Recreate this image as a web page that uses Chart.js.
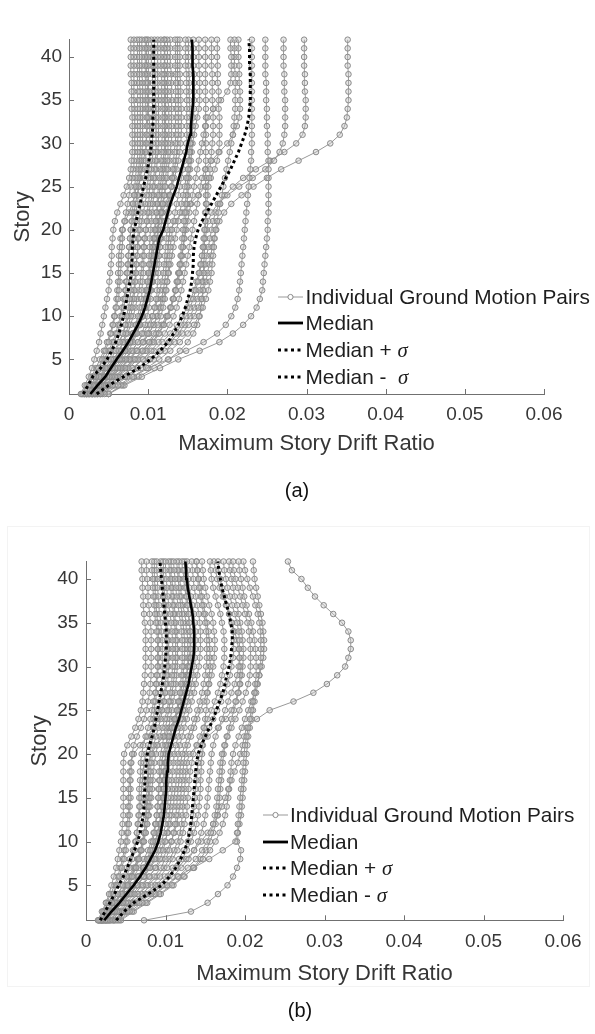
<!DOCTYPE html>
<html><head><meta charset="utf-8">
<script src="https://cdn.jsdelivr.net/npm/chart.js@4.4.1/dist/chart.umd.min.js"></script>
<style>
html,body{margin:0;padding:0;background:#fff;width:595px;height:1034px;overflow:hidden;font-family:'Liberation Sans',Arial,sans-serif;}
canvas{position:absolute;left:0;}
#chartA{top:0;}
#chartB{top:520px;}
.frame{position:absolute;left:7px;top:526px;width:583px;height:461px;border:1px solid #f3f3f3;box-sizing:border-box;}
.lg{position:absolute;left:0;top:0;width:595px;height:1034px;pointer-events:none;}
.row{position:absolute;height:26px;line-height:26px;white-space:nowrap;color:#1e1e1e;font-size:20.8px;}
.row svg{position:absolute;top:0;}
.sig{font-style:italic;font-family:'Liberation Serif','DejaVu Serif',serif;}
.cap{position:absolute;width:80px;height:24px;line-height:24px;text-align:center;font-size:20px;color:#111;}
</style>
</head>
<body>
<div class="frame"></div>
<canvas id="chartA" width="595" height="460"></canvas>
<canvas id="chartB" width="595" height="470"></canvas>
<div class="lg" id="legendA"></div>
<div class="lg" id="legendB"></div>
<div class="cap" style="left:257px;top:478px;">(a)</div>
<div class="cap" style="left:260px;top:998px;">(b)</div>
<script>
// ---------- DATA ----------
const stories = [1,2,3,4,5,6,7,8,9,10,11,12,13,14,15,16,17,18,19,20,21,22,23,24,25,26,27,28,29,30,31,32,33,34,35,36,37,38,39,40,41,42];
const xTickValues = [0,0.01,0.02,0.03,0.04,0.05,0.06];
const xTickLabels = ['0','0.01','0.02','0.03','0.04','0.05','0.06'];
const yTickValues = [5,10,15,20,25,30,35,40];
const legendLabelsA = ['Individual Ground Motion Pairs','Median','Median + σ','Median -  σ'];
const legendLabelsB = ['Individual Ground Motion Pairs','Median','Median + σ','Median - σ'];

// (a) individual ground motion pairs: max story drift ratio at stories 1..42
const pairsA = [
[.0015,.0020,.0025,.0029,.0032,.0035,.0038,.0040,.0042,.0044,.0046,.0048,.0050,.0051,.0052,.0053,.0054,.0054,.0055,.0056,.0058,.0061,.0065,.0069,.0073,.0076,.0078,.0079,.0080,.0080,.0080,.0080,.0080,.0079,.0079,.0079,.0079,.0078,.0078,.0078,.0078,.0078],
[.0018,.0025,.0031,.0037,.0042,.0046,.0050,.0053,.0056,.0058,.0060,.0062,.0063,.0064,.0065,.0066,.0066,.0067,.0067,.0068,.0070,.0072,.0074,.0076,.0078,.0080,.0081,.0082,.0083,.0083,.0083,.0083,.0083,.0083,.0082,.0082,.0082,.0082,.0082,.0082,.0082,.0082],
[.0020,.0027,.0034,.0041,.0047,.0052,.0057,.0061,.0064,.0067,.0069,.0071,.0072,.0073,.0074,.0075,.0075,.0076,.0077,.0078,.0079,.0080,.0081,.0082,.0083,.0084,.0085,.0086,.0087,.0087,.0087,.0087,.0087,.0087,.0087,.0087,.0086,.0086,.0086,.0086,.0086,.0086],
[.0016,.0022,.0028,.0034,.0039,.0044,.0048,.0052,.0055,.0057,.0059,.0060,.0061,.0062,.0062,.0063,.0063,.0064,.0065,.0067,.0071,.0076,.0080,.0083,.0085,.0087,.0088,.0089,.0090,.0090,.0090,.0090,.0090,.0090,.0090,.0090,.0089,.0089,.0089,.0089,.0089,.0089],
[.0022,.0030,.0038,.0046,.0053,.0059,.0064,.0068,.0071,.0073,.0075,.0077,.0078,.0079,.0080,.0080,.0081,.0081,.0082,.0083,.0084,.0085,.0086,.0087,.0088,.0089,.0090,.0091,.0092,.0093,.0093,.0093,.0093,.0093,.0093,.0093,.0093,.0092,.0092,.0092,.0092,.0092],
[.0024,.0032,.0040,.0049,.0057,.0063,.0068,.0072,.0075,.0078,.0080,.0082,.0083,.0084,.0085,.0085,.0086,.0086,.0087,.0088,.0089,.0090,.0091,.0093,.0094,.0095,.0096,.0097,.0097,.0098,.0098,.0098,.0098,.0097,.0097,.0097,.0097,.0096,.0096,.0096,.0096,.0096],
[.0020,.0027,.0035,.0043,.0050,.0057,.0063,.0068,.0072,.0075,.0078,.0080,.0082,.0083,.0084,.0085,.0086,.0087,.0088,.0090,.0092,.0094,.0096,.0098,.0099,.0100,.0101,.0102,.0102,.0102,.0102,.0102,.0101,.0101,.0101,.0101,.0100,.0100,.0100,.0100,.0100,.0100],
[.0026,.0035,.0045,.0055,.0064,.0071,.0077,.0081,.0084,.0087,.0089,.0091,.0092,.0093,.0094,.0094,.0095,.0095,.0096,.0097,.0098,.0099,.0100,.0101,.0102,.0103,.0104,.0105,.0106,.0106,.0106,.0106,.0106,.0106,.0105,.0105,.0105,.0105,.0104,.0104,.0104,.0104],
[.0022,.0030,.0039,.0048,.0056,.0063,.0069,.0074,.0078,.0081,.0084,.0086,.0088,.0090,.0091,.0092,.0093,.0094,.0095,.0097,.0099,.0101,.0103,.0105,.0106,.0107,.0108,.0109,.0110,.0110,.0110,.0110,.0110,.0110,.0109,.0109,.0109,.0109,.0108,.0108,.0108,.0108],
[.0028,.0038,.0048,.0058,.0067,.0075,.0081,.0086,.0090,.0093,.0095,.0097,.0098,.0099,.0100,.0101,.0101,.0102,.0102,.0103,.0104,.0105,.0106,.0107,.0108,.0109,.0110,.0111,.0112,.0113,.0113,.0113,.0113,.0113,.0113,.0113,.0112,.0112,.0112,.0112,.0112,.0112],
[.0024,.0033,.0043,.0053,.0062,.0070,.0077,.0083,.0088,.0092,.0095,.0098,.0100,.0102,.0103,.0104,.0105,.0106,.0107,.0108,.0109,.0110,.0111,.0112,.0113,.0114,.0115,.0116,.0117,.0117,.0118,.0118,.0118,.0118,.0117,.0117,.0117,.0117,.0116,.0116,.0116,.0116],
[.0030,.0040,.0051,.0062,.0072,.0080,.0087,.0092,.0096,.0099,.0101,.0103,.0104,.0105,.0106,.0106,.0107,.0107,.0108,.0109,.0110,.0111,.0112,.0114,.0115,.0117,.0118,.0119,.0120,.0121,.0121,.0121,.0121,.0121,.0121,.0121,.0120,.0120,.0120,.0120,.0120,.0120],
[.0026,.0035,.0045,.0055,.0064,.0072,.0079,.0085,.0090,.0094,.0097,.0100,.0102,.0104,.0106,.0108,.0109,.0110,.0111,.0112,.0114,.0116,.0118,.0120,.0121,.0122,.0123,.0124,.0125,.0125,.0126,.0126,.0126,.0126,.0125,.0125,.0125,.0125,.0124,.0124,.0124,.0124],
[.0032,.0043,.0054,.0066,.0077,.0086,.0093,.0099,.0103,.0106,.0108,.0110,.0111,.0112,.0113,.0114,.0114,.0115,.0115,.0116,.0117,.0118,.0119,.0121,.0122,.0124,.0125,.0127,.0128,.0129,.0130,.0130,.0130,.0130,.0130,.0129,.0129,.0129,.0128,.0128,.0128,.0128],
[.0028,.0038,.0049,.0060,.0070,.0079,.0087,.0094,.0100,.0105,.0109,.0112,.0115,.0117,.0119,.0120,.0121,.0122,.0123,.0124,.0125,.0126,.0127,.0128,.0129,.0130,.0131,.0132,.0133,.0134,.0135,.0135,.0135,.0135,.0135,.0135,.0135,.0134,.0134,.0134,.0134,.0134],
[.0022,.0031,.0040,.0050,.0059,.0067,.0074,.0080,.0085,.0089,.0092,.0095,.0097,.0099,.0101,.0102,.0104,.0105,.0107,.0110,.0114,.0118,.0122,.0126,.0130,.0133,.0136,.0138,.0140,.0141,.0142,.0142,.0142,.0142,.0141,.0141,.0141,.0140,.0140,.0140,.0140,.0140],
[.0034,.0046,.0058,.0071,.0083,.0093,.0101,.0107,.0112,.0116,.0119,.0121,.0123,.0124,.0125,.0126,.0127,.0128,.0129,.0130,.0132,.0134,.0136,.0138,.0140,.0142,.0144,.0146,.0147,.0148,.0149,.0149,.0149,.0149,.0149,.0148,.0148,.0148,.0147,.0147,.0147,.0147],
[.0030,.0041,.0052,.0064,.0075,.0085,.0094,.0101,.0107,.0112,.0116,.0119,.0122,.0124,.0126,.0128,.0130,.0132,.0134,.0136,.0138,.0140,.0142,.0144,.0146,.0148,.0150,.0151,.0152,.0153,.0153,.0153,.0153,.0153,.0152,.0152,.0152,.0152,.0151,.0151,.0151,.0151],
[.0036,.0049,.0062,.0075,.0087,.0098,.0107,.0114,.0120,.0125,.0129,.0132,.0135,.0137,.0139,.0140,.0141,.0142,.0143,.0144,.0145,.0146,.0147,.0148,.0149,.0150,.0151,.0152,.0153,.0154,.0155,.0156,.0157,.0158,.0158,.0158,.0158,.0158,.0157,.0157,.0157,.0157],
[.0032,.0044,.0057,.0070,.0082,.0093,.0102,.0110,.0117,.0123,.0128,.0132,.0135,.0138,.0140,.0142,.0143,.0144,.0145,.0146,.0147,.0148,.0149,.0150,.0151,.0152,.0153,.0154,.0155,.0156,.0158,.0160,.0162,.0164,.0165,.0165,.0165,.0165,.0164,.0164,.0164,.0164],
[.0040,.0055,.0071,.0087,.0102,.0115,.0126,.0135,.0142,.0148,.0153,.0157,.0160,.0163,.0165,.0167,.0168,.0169,.0170,.0171,.0172,.0173,.0174,.0175,.0176,.0177,.0178,.0179,.0180,.0181,.0182,.0182,.0182,.0182,.0181,.0181,.0181,.0181,.0180,.0180,.0180,.0180],
[.0030,.0041,.0053,.0065,.0076,.0086,.0094,.0101,.0107,.0111,.0114,.0117,.0119,.0121,.0122,.0123,.0124,.0125,.0126,.0128,.0134,.0143,.0153,.0163,.0172,.0179,.0184,.0187,.0189,.0190,.0190,.0190,.0190,.0189,.0189,.0189,.0188,.0188,.0188,.0187,.0187,.0187],
[.0034,.0047,.0060,.0073,.0085,.0096,.0105,.0113,.0119,.0124,.0128,.0131,.0134,.0136,.0138,.0140,.0142,.0144,.0146,.0148,.0150,.0152,.0154,.0156,.0158,.0160,.0162,.0164,.0166,.0168,.0170,.0172,.0175,.0182,.0192,.0200,.0204,.0205,.0205,.0205,.0204,.0204],
[.0045,.0062,.0080,.0098,.0114,.0128,.0140,.0150,.0158,.0164,.0169,.0173,.0176,.0178,.0180,.0181,.0182,.0183,.0184,.0185,.0187,.0189,.0191,.0193,.0195,.0197,.0199,.0201,.0203,.0205,.0207,.0208,.0209,.0210,.0210,.0210,.0210,.0210,.0209,.0209,.0209,.0209],
[.0038,.0052,.0066,.0080,.0093,.0104,.0113,.0121,.0127,.0132,.0136,.0139,.0142,.0144,.0146,.0148,.0150,.0152,.0154,.0156,.0158,.0160,.0162,.0164,.0166,.0168,.0172,.0180,.0190,.0200,.0207,.0212,.0215,.0216,.0216,.0216,.0215,.0215,.0215,.0214,.0214,.0214],
[.0050,.0066,.0082,.0100,.0125,.0148,.0170,.0187,.0198,.0205,.0210,.0213,.0215,.0216,.0217,.0218,.0219,.0220,.0221,.0222,.0223,.0224,.0225,.0226,.0227,.0228,.0229,.0230,.0230,.0231,.0231,.0231,.0231,.0231,.0231,.0231,.0231,.0231,.0231,.0231,.0231,.0231],
[.0050,.0070,.0092,.0115,.0138,.0165,.0190,.0207,.0220,.0230,.0237,.0241,.0244,.0245,.0246,.0247,.0248,.0249,.0250,.0251,.0251,.0252,.0252,.0252,.0252,.0252,.0252,.0252,.0251,.0251,.0251,.0250,.0250,.0250,.0249,.0249,.0249,.0248,.0248,.0248,.0248,.0248],
[.0036,.0050,.0065,.0080,.0094,.0107,.0118,.0128,.0136,.0143,.0149,.0154,.0158,.0161,.0164,.0166,.0168,.0170,.0172,.0174,.0176,.0180,.0188,.0200,.0215,.0232,.0248,.0259,.0266,.0270,.0272,.0273,.0273,.0273,.0273,.0272,.0272,.0272,.0271,.0271,.0271,.0271],
[.0040,.0055,.0071,.0087,.0102,.0116,.0128,.0138,.0146,.0153,.0158,.0162,.0165,.0168,.0170,.0172,.0174,.0176,.0178,.0180,.0182,.0185,.0190,.0197,.0207,.0220,.0236,.0254,.0272,.0287,.0295,.0298,.0299,.0299,.0299,.0298,.0298,.0298,.0297,.0297,.0297,.0297],
[.0042,.0058,.0074,.0091,.0107,.0121,.0133,.0143,.0151,.0158,.0163,.0167,.0170,.0173,.0175,.0177,.0179,.0181,.0183,.0186,.0190,.0196,.0205,.0218,.0233,.0250,.0268,.0290,.0312,.0330,.0342,.0348,.0351,.0352,.0353,.0353,.0353,.0353,.0352,.0352,.0352,.0352],
[.0050,.0068,.0088,.0108,.0126,.0140,.0150,.0157,.0162,.0165,.0167,.0168,.0169,.0170,.0170,.0170,.0171,.0171,.0171,.0172,.0172,.0172,.0173,.0173,.0173,.0173,.0173,.0173,.0173,.0173,.0173,.0173,.0173,.0173,.0173,.0172,.0172,.0172,.0172,.0172,.0172,.0172],
[.0020,.0028,.0037,.0047,.0057,.0066,.0074,.0081,.0087,.0092,.0096,.0100,.0103,.0106,.0109,.0111,.0113,.0115,.0117,.0119,.0121,.0123,.0125,.0127,.0129,.0131,.0133,.0135,.0136,.0137,.0138,.0138,.0138,.0138,.0138,.0138,.0137,.0137,.0137,.0137,.0137,.0137],
[.0017,.0023,.0030,.0037,.0044,.0050,.0055,.0059,.0062,.0065,.0067,.0069,.0071,.0072,.0073,.0074,.0075,.0076,.0077,.0078,.0080,.0082,.0084,.0086,.0088,.0090,.0092,.0094,.0096,.0097,.0098,.0099,.0099,.0099,.0099,.0099,.0099,.0098,.0098,.0098,.0098,.0098],
[.0025,.0034,.0044,.0054,.0063,.0071,.0078,.0084,.0089,.0093,.0096,.0099,.0101,.0103,.0105,.0107,.0109,.0111,.0112,.0113,.0114,.0115,.0116,.0117,.0118,.0119,.0120,.0121,.0122,.0122,.0122,.0122,.0122,.0122,.0122,.0122,.0121,.0121,.0121,.0121,.0121,.0121]
];
const medianA = [.0027,.0036,.0046,.0053,.0060,.0068,.0075,.0081,.0087,.0092,.0096,.0099,.0102,.0104,.0106,.0108,.0110,.0112,.0114,.0119,.0122,.0125,.0128,.0132,.0136,.0139,.0142,.0145,.0148,.0150,.0153,.0154,.0155,.0156,.0157,.0157,.0157,.0157,.0156,.0156,.0156,.0155];
const medianPlusA = [.0035,.0050,.0069,.0088,.0103,.0115,.0125,.0132,.0138,.0143,.0147,.0150,.0153,.0155,.0156,.0157,.0157,.0158,.0160,.0163,.0168,.0174,.0180,.0186,.0192,.0198,.0204,.0209,.0214,.0218,.0222,.0225,.0227,.0228,.0229,.0229,.0229,.0229,.0228,.0228,.0228,.0227];
const medianMinusA = [.0018,.0024,.0030,.0040,.0048,.0054,.0059,.0063,.0066,.0069,.0071,.0073,.0075,.0077,.0079,.0079,.0080,.0080,.0081,.0082,.0085,.0087,.0090,.0092,.0094,.0097,.0099,.0101,.0103,.0104,.0105,.0106,.0106,.0107,.0107,.0107,.0107,.0107,.0107,.0107,.0107,.0107];

// (b) individual ground motion pairs
const pairsB = [
[.0015,.0020,.0025,.0029,.0032,.0035,.0038,.0040,.0042,.0044,.0045,.0046,.0047,.0047,.0047,.0047,.0047,.0047,.0047,.0048,.0052,.0057,.0062,.0066,.0069,.0071,.0072,.0073,.0074,.0075,.0075,.0075,.0075,.0075,.0074,.0073,.0072,.0072,.0071,.0071,.0070,.0070],
[.0017,.0023,.0029,.0034,.0038,.0042,.0045,.0048,.0050,.0052,.0053,.0054,.0055,.0055,.0056,.0056,.0056,.0057,.0057,.0058,.0060,.0064,.0069,.0073,.0076,.0078,.0080,.0081,.0082,.0082,.0082,.0082,.0082,.0082,.0081,.0080,.0079,.0078,.0078,.0077,.0076,.0076],
[.0019,.0026,.0033,.0040,.0046,.0051,.0055,.0058,.0061,.0063,.0064,.0065,.0066,.0067,.0067,.0067,.0068,.0068,.0069,.0070,.0072,.0075,.0078,.0081,.0083,.0085,.0087,.0088,.0089,.0090,.0090,.0090,.0090,.0089,.0088,.0087,.0086,.0085,.0084,.0084,.0083,.0083],
[.0016,.0022,.0028,.0034,.0040,.0046,.0051,.0055,.0059,.0062,.0064,.0066,.0067,.0068,.0069,.0070,.0071,.0072,.0073,.0075,.0078,.0082,.0086,.0089,.0091,.0093,.0094,.0095,.0096,.0096,.0096,.0096,.0096,.0095,.0094,.0093,.0092,.0091,.0090,.0090,.0089,.0089],
[.0021,.0029,.0037,.0045,.0052,.0058,.0063,.0067,.0070,.0073,.0075,.0077,.0078,.0079,.0080,.0080,.0081,.0081,.0082,.0083,.0085,.0088,.0091,.0094,.0096,.0098,.0099,.0100,.0101,.0102,.0102,.0102,.0102,.0101,.0100,.0099,.0098,.0097,.0096,.0095,.0094,.0094],
[.0018,.0025,.0032,.0040,.0047,.0054,.0060,.0065,.0069,.0072,.0075,.0077,.0079,.0081,.0082,.0083,.0084,.0085,.0086,.0088,.0090,.0093,.0096,.0099,.0102,.0104,.0106,.0107,.0108,.0109,.0109,.0109,.0109,.0108,.0107,.0106,.0104,.0103,.0102,.0101,.0100,.0100],
[.0024,.0033,.0042,.0051,.0059,.0066,.0072,.0077,.0081,.0084,.0086,.0088,.0089,.0090,.0091,.0091,.0092,.0092,.0093,.0094,.0096,.0098,.0100,.0102,.0104,.0106,.0108,.0110,.0111,.0112,.0113,.0113,.0113,.0112,.0111,.0110,.0109,.0108,.0107,.0106,.0105,.0104],
[.0020,.0028,.0036,.0045,.0053,.0060,.0067,.0073,.0078,.0082,.0085,.0087,.0089,.0090,.0091,.0092,.0093,.0094,.0095,.0097,.0100,.0104,.0108,.0111,.0114,.0116,.0118,.0119,.0120,.0121,.0121,.0121,.0121,.0120,.0119,.0117,.0116,.0114,.0113,.0112,.0111,.0110],
[.0026,.0036,.0046,.0056,.0065,.0073,.0080,.0086,.0091,.0095,.0098,.0100,.0101,.0102,.0103,.0103,.0104,.0104,.0105,.0106,.0107,.0109,.0111,.0113,.0115,.0117,.0119,.0121,.0122,.0123,.0124,.0124,.0124,.0123,.0122,.0121,.0119,.0118,.0117,.0116,.0115,.0114],
[.0022,.0031,.0040,.0049,.0058,.0066,.0073,.0079,.0084,.0088,.0091,.0093,.0095,.0096,.0097,.0098,.0099,.0100,.0101,.0103,.0107,.0111,.0115,.0119,.0122,.0125,.0127,.0129,.0130,.0131,.0132,.0132,.0132,.0131,.0130,.0129,.0127,.0126,.0124,.0123,.0122,.0121],
[.0028,.0039,.0050,.0061,.0071,.0080,.0087,.0093,.0097,.0100,.0102,.0104,.0105,.0106,.0107,.0108,.0108,.0109,.0110,.0111,.0113,.0116,.0119,.0122,.0125,.0128,.0131,.0133,.0135,.0136,.0137,.0138,.0138,.0138,.0137,.0136,.0134,.0132,.0130,.0129,.0128,.0127],
[.0024,.0034,.0044,.0054,.0064,.0073,.0081,.0088,.0094,.0099,.0103,.0106,.0108,.0110,.0111,.0112,.0113,.0114,.0115,.0116,.0118,.0121,.0124,.0127,.0130,.0133,.0136,.0138,.0140,.0142,.0143,.0144,.0144,.0144,.0143,.0142,.0140,.0138,.0136,.0135,.0134,.0133],
[.0030,.0041,.0053,.0065,.0076,.0086,.0094,.0100,.0105,.0108,.0110,.0112,.0113,.0114,.0115,.0116,.0117,.0118,.0119,.0121,.0124,.0128,.0132,.0136,.0140,.0143,.0146,.0148,.0150,.0151,.0152,.0152,.0152,.0151,.0150,.0148,.0146,.0144,.0142,.0141,.0140,.0139],
[.0026,.0036,.0047,.0058,.0069,.0079,.0088,.0096,.0102,.0107,.0111,.0114,.0116,.0118,.0119,.0120,.0121,.0122,.0123,.0125,.0128,.0132,.0136,.0140,.0144,.0148,.0152,.0155,.0158,.0160,.0161,.0162,.0162,.0161,.0160,.0158,.0155,.0152,.0150,.0148,.0147,.0146],
[.0032,.0044,.0057,.0070,.0082,.0093,.0102,.0109,.0115,.0119,.0122,.0124,.0126,.0127,.0128,.0129,.0130,.0131,.0133,.0135,.0139,.0143,.0148,.0153,.0158,.0162,.0166,.0169,.0171,.0173,.0174,.0174,.0174,.0173,.0171,.0169,.0166,.0163,.0160,.0158,.0157,.0156],
[.0034,.0047,.0060,.0074,.0087,.0099,.0109,.0117,.0123,.0128,.0131,.0133,.0135,.0136,.0137,.0138,.0139,.0140,.0141,.0143,.0146,.0150,.0155,.0160,.0165,.0170,.0174,.0178,.0181,.0183,.0185,.0186,.0186,.0185,.0183,.0180,.0177,.0174,.0171,.0169,.0167,.0166],
[.0038,.0052,.0067,.0082,.0096,.0109,.0120,.0129,.0136,.0141,.0145,.0148,.0150,.0152,.0153,.0154,.0155,.0156,.0157,.0158,.0160,.0163,.0167,.0171,.0175,.0179,.0183,.0187,.0190,.0192,.0193,.0193,.0193,.0192,.0190,.0187,.0184,.0181,.0178,.0176,.0174,.0173],
[.0040,.0055,.0071,.0087,.0102,.0116,.0128,.0138,.0146,.0152,.0157,.0160,.0162,.0164,.0165,.0166,.0167,.0168,.0169,.0171,.0174,.0178,.0183,.0188,.0193,.0197,.0201,.0204,.0206,.0207,.0207,.0207,.0206,.0205,.0203,.0200,.0197,.0194,.0191,.0188,.0186,.0185],
[.0028,.0042,.0058,.0085,.0100,.0115,.0135,.0155,.0172,.0188,.0190,.0191,.0192,.0193,.0194,.0195,.0196,.0197,.0198,.0199,.0200,.0202,.0204,.0206,.0208,.0210,.0212,.0213,.0214,.0214,.0214,.0213,.0212,.0210,.0208,.0205,.0202,.0199,.0197,.0195,.0193,.0192],
[.0073,.0132,.0153,.0166,.0178,.0185,.0190,.0194,.0195,.0190,.0191,.0193,.0195,.0196,.0197,.0198,.0199,.0200,.0201,.0202,.0203,.0204,.0206,.0208,.0210,.0212,.0214,.0216,.0218,.0219,.0220,.0220,.0220,.0219,.0218,.0216,.0213,.0210,.0206,.0203,.0200,.0198],
[.0035,.0048,.0062,.0076,.0090,.0103,.0115,.0126,.0136,.0145,.0153,.0160,.0166,.0171,.0175,.0179,.0183,.0187,.0191,.0194,.0197,.0199,.0202,.0215,.0231,.0261,.0286,.0303,.0316,.0326,.0330,.0333,.0333,.0330,.0322,.0311,.0299,.0288,.0279,.0271,.0259,.0254],
[.0042,.0058,.0075,.0092,.0108,.0123,.0136,.0147,.0156,.0163,.0168,.0172,.0175,.0177,.0179,.0180,.0181,.0182,.0183,.0185,.0188,.0192,.0196,.0200,.0204,.0208,.0212,.0215,.0218,.0221,.0223,.0224,.0224,.0223,.0222,.0220,.0218,.0216,.0214,.0212,.0211,.0210],
[.0016,.0021,.0026,.0031,.0036,.0040,.0043,.0046,.0048,.0050,.0051,.0052,.0053,.0053,.0054,.0054,.0055,.0055,.0056,.0060,.0068,.0077,.0085,.0091,.0095,.0098,.0100,.0102,.0103,.0104,.0104,.0104,.0104,.0103,.0102,.0101,.0100,.0099,.0098,.0098,.0097,.0097],
[.0020,.0028,.0036,.0044,.0051,.0057,.0062,.0066,.0069,.0071,.0073,.0074,.0075,.0076,.0076,.0077,.0077,.0078,.0079,.0082,.0089,.0097,.0105,.0112,.0117,.0121,.0124,.0126,.0127,.0128,.0128,.0128,.0128,.0127,.0126,.0124,.0122,.0120,.0119,.0118,.0117,.0117],
[.0036,.0050,.0064,.0078,.0091,.0103,.0113,.0121,.0127,.0132,.0136,.0139,.0141,.0142,.0143,.0144,.0144,.0145,.0145,.0146,.0147,.0148,.0149,.0150,.0151,.0152,.0153,.0154,.0155,.0156,.0156,.0156,.0155,.0154,.0152,.0150,.0148,.0146,.0144,.0142,.0140,.0139],
[.0022,.0030,.0039,.0048,.0057,.0065,.0072,.0078,.0083,.0087,.0090,.0092,.0094,.0095,.0096,.0097,.0098,.0099,.0100,.0101,.0103,.0106,.0109,.0112,.0115,.0118,.0121,.0124,.0126,.0128,.0130,.0131,.0131,.0131,.0130,.0129,.0128,.0127,.0126,.0125,.0124,.0124],
[.0019,.0027,.0035,.0043,.0050,.0056,.0061,.0065,.0068,.0071,.0073,.0075,.0076,.0077,.0078,.0078,.0079,.0079,.0080,.0081,.0082,.0083,.0084,.0085,.0086,.0087,.0088,.0089,.0090,.0091,.0091,.0091,.0091,.0091,.0090,.0089,.0088,.0087,.0087,.0086,.0086,.0086],
[.0025,.0035,.0045,.0055,.0064,.0072,.0078,.0083,.0087,.0090,.0092,.0094,.0095,.0096,.0097,.0097,.0098,.0098,.0099,.0100,.0101,.0102,.0104,.0106,.0108,.0110,.0112,.0113,.0114,.0115,.0115,.0115,.0115,.0114,.0113,.0112,.0111,.0110,.0109,.0108,.0107,.0107],
[.0030,.0042,.0054,.0066,.0078,.0089,.0098,.0105,.0111,.0115,.0118,.0120,.0121,.0122,.0123,.0124,.0125,.0126,.0127,.0130,.0140,.0153,.0166,.0176,.0183,.0188,.0191,.0193,.0194,.0194,.0193,.0192,.0190,.0187,.0184,.0180,.0176,.0172,.0168,.0165,.0163,.0161],
[.0044,.0060,.0077,.0094,.0110,.0124,.0135,.0144,.0151,.0156,.0160,.0163,.0165,.0167,.0168,.0169,.0170,.0171,.0172,.0173,.0175,.0177,.0180,.0183,.0186,.0189,.0192,.0194,.0196,.0197,.0198,.0198,.0197,.0196,.0194,.0192,.0190,.0187,.0185,.0183,.0181,.0180]
];
const medianB = [.0023,.0032,.0042,.0051,.0060,.0068,.0075,.0081,.0087,.0091,.0094,.0096,.0098,.0099,.0100,.0101,.0101,.0102,.0103,.0104,.0107,.0110,.0113,.0117,.0120,.0123,.0126,.0129,.0131,.0133,.0135,.0136,.0136,.0136,.0135,.0134,.0132,.0130,.0128,.0127,.0126,.0125];
const medianPlusB = [.0038,.0048,.0060,.0078,.0095,.0105,.0113,.0119,.0124,.0128,.0130,.0132,.0133,.0134,.0135,.0136,.0137,.0138,.0139,.0141,.0145,.0150,.0155,.0160,.0164,.0168,.0172,.0175,.0177,.0180,.0182,.0183,.0184,.0184,.0182,.0180,.0177,.0174,.0171,.0169,.0167,.0166];
const medianMinusB = [.0018,.0024,.0030,.0036,.0041,.0047,.0052,.0056,.0061,.0065,.0068,.0070,.0072,.0073,.0073,.0074,.0074,.0075,.0076,.0077,.0080,.0083,.0086,.0088,.0090,.0092,.0094,.0096,.0098,.0099,.0100,.0101,.0101,.0101,.0100,.0099,.0098,.0097,.0096,.0095,.0094,.0093];

// ---------- STYLE ----------
Chart.defaults.font.family = "'Liberation Sans', Arial, sans-serif";
const AXIS = '#707070';
const TXT = '#363636';
const GRAY_LINE = '#999999';
const GRAY_MK = '#8a8a8a';

function toPoints(vals) {
  return vals.map((v, k) => ({x: v, y: stories[k]}));
}

function grayDs(label) {
  return (vals, i) => ({
    label: i === 0 ? label : '',
    data: toPoints(vals),
    showLine: true, borderColor: GRAY_LINE, borderWidth: 1,
    pointRadius: 2.8, pointBorderWidth: 1, pointBorderColor: GRAY_MK,
    pointBackgroundColor: 'rgba(190,190,190,0.35)', pointStyle: 'circle',
    tension: 0, clip: false, order: 2
  });
}
function blackDs(vals, label, dashed) {
  return {
    label, data: toPoints(vals), showLine: true,
    borderColor: '#000', borderWidth: dashed ? 3 : 2.6,
    borderDash: dashed ? [3, 3] : [], pointRadius: 0, tension: 0, clip: false,
    order: 0
  };
}

const inwardTicks = {
  id: 'inwardTicks',
  afterDatasetsDraw(chart) {
    const {ctx, chartArea, scales: {x, y}} = chart;
    ctx.save();
    ctx.strokeStyle = AXIS; ctx.lineWidth = 1;
    ctx.beginPath();
    x.ticks.forEach(t => {
      const px = Math.round(x.getPixelForValue(t.value)) + 0.5;
      ctx.moveTo(px, chartArea.bottom); ctx.lineTo(px, chartArea.bottom - 5);
    });
    y.ticks.forEach(t => {
      const py = Math.round(y.getPixelForValue(t.value)) + 0.5;
      ctx.moveTo(chartArea.left, py); ctx.lineTo(chartArea.left + 5, py);
    });
    ctx.stroke();
    ctx.restore();
  }
};

function makeChart(id, pairs, med, plus, minus, labels, lay) {
  const datasets = [
    blackDs(med, labels[1], false),
    blackDs(plus, labels[2], true),
    blackDs(minus, labels[3], true)
  ].concat(pairs.map(grayDs(labels[0])));
  return new Chart(document.getElementById(id), {
    type: 'scatter',
    data: {datasets},
    options: {
      responsive: false, animation: false, devicePixelRatio: 1,
      layout: {padding: {top: lay.top, right: lay.right, left: 0, bottom: 0}},
      plugins: {legend: {display: false}, tooltip: {enabled: false}},
      events: [],
      scales: {
        x: {
          type: 'linear', min: 0, max: 0.06,
          afterBuildTicks: s => { s.ticks = xTickValues.map(v => ({value: v})); },
          afterFit: s => { s.height = lay.xH; },
          grid: {display: false, drawTicks: false},
          border: {display: true, color: AXIS, width: 1},
          ticks: {color: TXT, font: {size: 19}, padding: lay.xPad, autoSkip: false, maxRotation: 0,
                  callback: (v, i) => xTickLabels[i]},
          title: {display: true, text: 'Maximum Story Drift Ratio', color: TXT, font: {size: 22},
                  padding: {top: 0, bottom: lay.xTitlePad}}
        },
        y: {
          type: 'linear', min: 1, max: 42,
          afterBuildTicks: s => { s.ticks = yTickValues.map(v => ({value: v})); },
          afterFit: s => { s.width = lay.yW; },
          grid: {display: false, drawTicks: false},
          border: {display: true, color: AXIS, width: 1},
          ticks: {color: TXT, font: {size: 19}, padding: lay.yPad, autoSkip: false,
                  callback: v => String(v)},
          title: {display: true, text: 'Story', color: TXT, font: {size: 22},
                  padding: {top: lay.yTitlePad, bottom: 0}}
        }
      }
    },
    plugins: [inwardTicks]
  });
}

makeChart('chartA', pairsA, medianA, medianPlusA, medianMinusA, legendLabelsA,
  {top: 39.7, right: 51, xH: 66, yW: 69, xPad: 9.6, yPad: 7, xTitlePad: 3.3, yTitlePad: 10});
makeChart('chartB', pairsB, medianB, medianPlusB, medianMinusB, legendLabelsB,
  {top: 41.5, right: 32, xH: 69.7, yW: 86, xPad: 10, yPad: 7.7, xTitlePad: 2.6, yTitlePad: 26.8});

// ---------- LEGENDS (HTML text) ----------
function sampleSvg(kind, w) {
  const mid = 13;
  if (kind === 0) {
    return `<svg width="${w}" height="26"><line x1="0" y1="${mid}" x2="${w}" y2="${mid}" stroke="${GRAY_LINE}" stroke-width="1"/><circle cx="${w/2}" cy="${mid}" r="2.6" fill="#fff" stroke="${GRAY_MK}" stroke-width="1"/></svg>`;
  }
  if (kind === 1) {
    return `<svg width="${w}" height="26"><line x1="0" y1="${mid}" x2="${w}" y2="${mid}" stroke="#000" stroke-width="2.8"/></svg>`;
  }
  return `<svg width="${w}" height="26"><line x1="0" y1="${mid}" x2="${w}" y2="${mid}" stroke="#000" stroke-width="2.8" stroke-dasharray="3 3.5"/></svg>`;
}
function buildLegend(elId, labels, sampleLeft, sampleW, textLeft, centers) {
  const el = document.getElementById(elId);
  labels.forEach((lab, i) => {
    const row = document.createElement('div');
    row.className = 'row';
    row.style.left = sampleLeft + 'px';
    row.style.top = (centers[i] - 13) + 'px';
    const html = lab.replace('σ', '<span class="sig">σ</span>').replace('  ', ' &nbsp;');
    row.innerHTML = `<span style="position:absolute;left:0;top:0;">${sampleSvg(Math.min(i, 2), sampleW)}</span>` +
      `<span style="position:absolute;left:${textLeft - sampleLeft}px;top:0;">${html}</span>`;
    el.appendChild(row);
  });
}
buildLegend('legendA', legendLabelsA, 278, 25, 305.5, [296.7, 323.3, 350, 376.7]);
buildLegend('legendB', legendLabelsB, 263, 25, 290, [815, 841.7, 868.3, 895]);
</script>
</body></html>
